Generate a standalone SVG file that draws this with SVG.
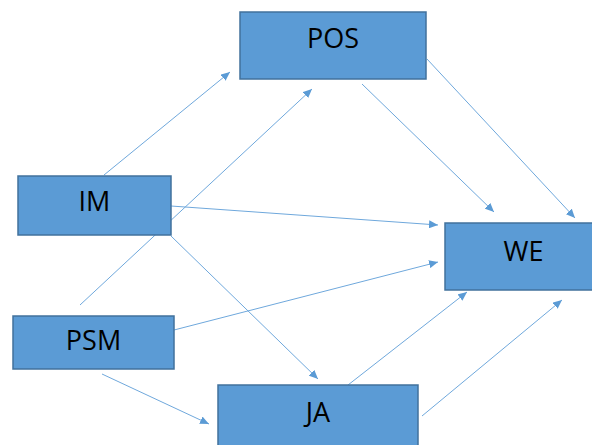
<svg xmlns="http://www.w3.org/2000/svg" width="592" height="445" viewBox="0 0 592 445">
<style>
.box{fill:#5B9BD5;stroke:#41719C;stroke-width:1.5}
.lbl{font-family:"Open Sans","Liberation Sans",sans-serif;font-size:27px;fill:#000;text-anchor:middle}
.c{stroke:#6FA8DC;stroke-width:1;fill:none;marker-end:url(#ah)}
</style>
<defs>
<marker id="ah" markerWidth="9" markerHeight="8" refX="9" refY="4" orient="auto" markerUnits="userSpaceOnUse">
<path d="M0,0 L9,4 L0,8 z" fill="#5B9BD5"/>
</marker>
</defs>
<rect width="592" height="445" fill="#fff"/>
<g id="connectors">
<line class="c" x1="104" y1="175" x2="230" y2="72"/>
<line class="c" x1="80" y1="305" x2="312" y2="89"/>
<line class="c" x1="171" y1="206" x2="438" y2="225"/>
<line class="c" x1="171" y1="236" x2="318" y2="379"/>
<line class="c" x1="174" y1="330" x2="438" y2="262"/>
<line class="c" x1="102" y1="374" x2="209" y2="424"/>
<line class="c" x1="362" y1="84" x2="494" y2="212"/>
<line class="c" x1="427" y1="59" x2="575" y2="218"/>
<line class="c" x1="348" y1="385" x2="467" y2="292"/>
<line class="c" x1="422" y1="416" x2="562" y2="300"/>
</g>
<g id="POS"><rect class="box" x="240" y="12" width="186" height="67"/><text class="lbl" x="333" y="48">POS</text></g>
<g id="IM"><rect class="box" x="18" y="176" width="153" height="59"/><text class="lbl" x="94.5" y="211">IM</text></g>
<g id="PSM"><rect class="box" x="13" y="316" width="161" height="53"/><text class="lbl" x="93.5" y="350">PSM</text></g>
<g id="JA"><rect class="box" x="218" y="385" width="200" height="70"/><text class="lbl" x="318" y="422">JA</text></g>
<g id="WE"><rect class="box" x="445" y="223" width="158" height="67"/><text class="lbl" x="523.5" y="261">WE</text></g>
</svg>
